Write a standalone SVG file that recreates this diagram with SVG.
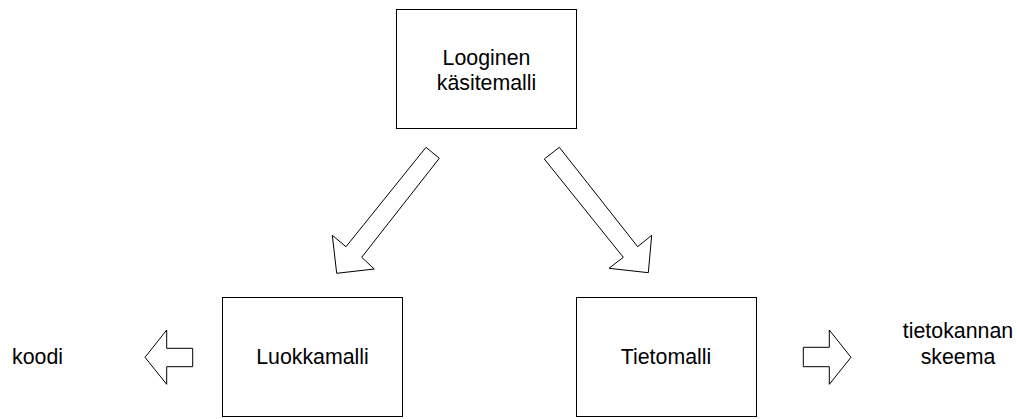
<svg xmlns="http://www.w3.org/2000/svg" width="1017" height="419" viewBox="0 0 1017 419">
  <style>
    .box { fill: #ffffff; stroke: #000000; stroke-width: 1; }
    .arrow { fill: #ffffff; stroke: #000000; stroke-width: 1; stroke-linejoin: miter; }
    .label { font-family: "Liberation Sans", Arial, sans-serif; font-size: 21.33px; fill: #000000; text-anchor: middle; }
    .plain { font-family: "Liberation Sans", Arial, sans-serif; font-size: 21.33px; fill: #000000; }
  </style>
  <rect width="1017" height="419" fill="#ffffff"/>

  <!-- Block arrows between models -->
  <g id="connectors">
    <polygon class="arrow" points="426,147.3 439.3,158.3 361.7,257.3 374.3,269 336.7,273.3 332.3,235.3 346,246.7"/>
    <polygon class="arrow" points="559.3,147.3 544.3,159 623.3,257.3 609,268.3 648.3,272.7 651.7,235.3 637.7,246.7"/>
    <polygon class="arrow" points="192.7,348.3 166.7,348.3 166.7,330 145,357.3 166.7,384.3 166.7,366.7 192.7,366.7"/>
    <polygon class="arrow" points="803.3,347.3 829.3,347.3 829.3,330 851,357.3 829.3,384.3 829.3,366.7 803.3,366.7"/>
  </g>

  <g id="looginen-kasitemalli">
    <rect class="box" x="396.5" y="9.5" width="180" height="119"/>
    <text class="label" x="486.5" y="65">Looginen</text>
    <text class="label" x="486.5" y="90">käsitemalli</text>
  </g>

  <g id="luokkamalli">
    <rect class="box" x="222.5" y="297.5" width="180" height="119"/>
    <text class="label" x="312.5" y="364">Luokkamalli</text>
  </g>

  <g id="tietomalli">
    <rect class="box" x="576.5" y="297.5" width="180" height="119"/>
    <text class="label" x="666" y="364">Tietomalli</text>
  </g>

  <g id="koodi">
    <text class="plain" x="12" y="364">koodi</text>
  </g>

  <g id="tietokannan-skeema">
    <text class="label" x="958" y="338">tietokannan</text>
    <text class="label" x="958" y="364">skeema</text>
  </g>
</svg>
